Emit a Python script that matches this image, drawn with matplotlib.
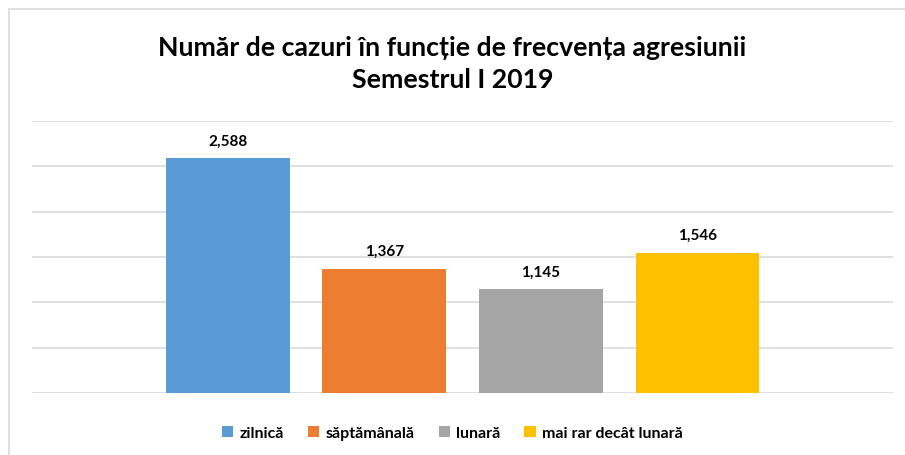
import matplotlib
matplotlib.use("Agg")
import matplotlib.pyplot as plt
from matplotlib.patches import Rectangle

# data
categories = ["zilnică", "săptămânală", "lunară", "mai rar decât lunară"]
values = [2588, 1367, 1145, 1546]
colors = ["#5b9bd5", "#ed7d31", "#a5a5a5", "#ffc000"]
title = "Număr de cazuri în funcție de frecvența agresiunii\nSemestrul I 2019"

plt.rcParams["font.family"] = ["Lato", "DejaVu Sans"]

W, H = 905, 456
fig = plt.figure(figsize=(W / 100, H / 100), dpi=100)

# light frame around the chart area (left and top edges visible)
fig.add_artist(Rectangle((9 / W, -0.1), 1.2, (H - 10) / H + 0.1,
                         transform=fig.transFigure, fill=False,
                         edgecolor="#d9d9d9", lw=1.2))

ax = fig.add_axes([32 / W, (H - 394) / H, (893 - 32) / W, (394 - 122) / H])

x = list(range(len(values)))
bars = ax.bar(x, values, width=0.792, color=colors, zorder=3)
for xi, v in zip(x, values):
    ax.text(xi, v + 120, f"{v:,}", ha="center", va="bottom",
            fontsize=11, fontweight="bold", color="#000000")

ax.set_xlim(-1.252, 4.249)
ax.set_ylim(0, 3000)
ax.set_yticks(range(0, 3001, 500))
ax.yaxis.grid(True, color="#d9d9d9", lw=1.2, zorder=0)
ax.tick_params(left=False, bottom=False, labelleft=False, labelbottom=False)
for s in ax.spines.values():
    s.set_visible(False)

fig.text(0.5, (H - 63.5) / H, title, ha="center", va="center", fontsize=19.2,
         fontweight="bold", linespacing=1.4)

fig.legend(bars, categories, loc="center", bbox_to_anchor=(0.5, (H - 434) / H),
           ncol=4, frameon=False, handlelength=0.7, handleheight=0.7,
           handletextpad=0.4, columnspacing=1.5,
           prop={"weight": "bold", "size": 11.5})

fig.savefig("out.png", dpi=100, facecolor="white")
